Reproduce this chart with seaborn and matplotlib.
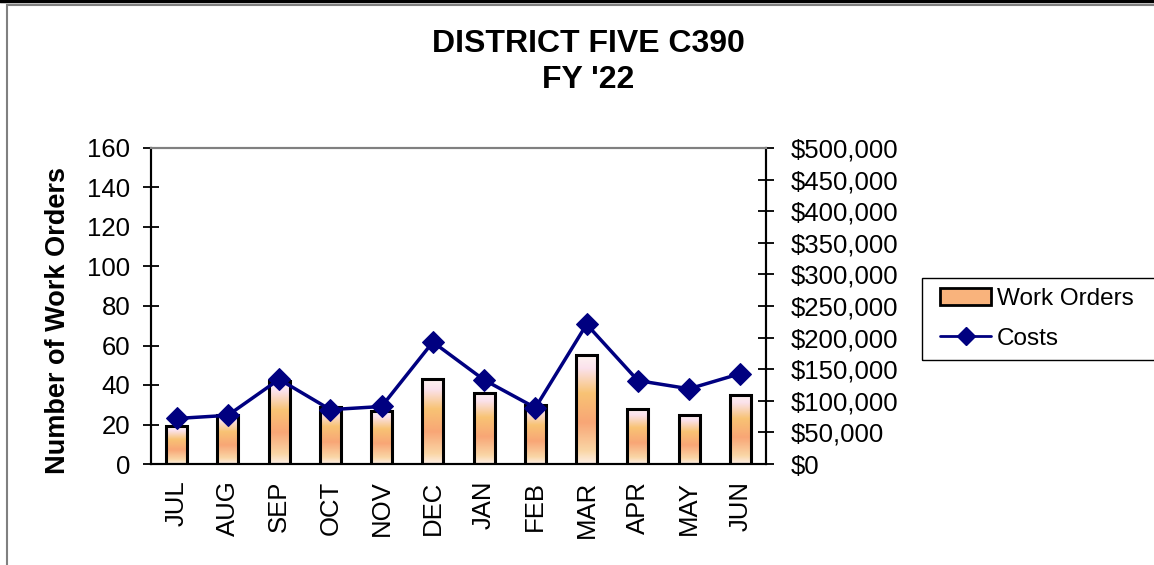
import numpy as np
import pandas as pd
import matplotlib
matplotlib.use("Agg")
import matplotlib.pyplot as plt
from matplotlib.colors import LinearSegmentedColormap
from matplotlib.patches import Rectangle, Patch
from matplotlib.lines import Line2D
from matplotlib.ticker import FuncFormatter, MultipleLocator, FixedLocator
import seaborn as sns

months = ["JUL", "AUG", "SEP", "OCT", "NOV", "DEC", "JAN", "FEB", "MAR", "APR", "MAY", "JUN"]
work_orders = [19, 25, 42, 29, 27, 43, 36, 30, 55, 28, 25, 35]
costs = [72000, 77000, 134000, 86000, 91000, 193000, 133000, 89000, 221000, 132000, 119000, 143000]

sns.set_style("white")
plt.rcParams["font.family"] = ["Liberation Sans", "DejaVu Sans"]
plt.rcParams["text.color"] = "black"
plt.rcParams["axes.labelcolor"] = "black"
plt.rcParams["xtick.color"] = "black"
plt.rcParams["ytick.color"] = "black"

W, H = 1154, 565
fig = plt.figure(figsize=(W / 100, H / 100), dpi=100)
ax = fig.add_axes([151 / W, 1 - 464 / H, (766 - 151) / W, (464 - 148) / H])

df = pd.DataFrame({"Month": months, "Work Orders": work_orders, "Costs": costs})
sns.barplot(data=df, x="Month", y="Work Orders", ax=ax, width=0.41,
            color="#F9B37C", edgecolor="black", linewidth=2.2, zorder=2)

# gradient fill for bars
cmap = LinearSegmentedColormap.from_list("grad", [
    (0.0, "#FDF3F0"), (0.12, "#FBE2EC"), (0.35, "#F8C374"),
    (0.62, "#F8A676"), (0.88, "#FAD6A6"), (1.0, "#FDEFE6")])
grad = np.linspace(0, 1, 256).reshape(-1, 1)
for p in ax.patches:
    x0, y0 = p.get_x(), p.get_y()
    w, h = p.get_width(), p.get_height()
    im = ax.imshow(grad, cmap=cmap, aspect="auto", extent=[x0, x0 + w, y0, y0 + h],
                   origin="upper", zorder=2.5)
    im.set_clip_path(p)
    p.set_facecolor("none")
    p.set_zorder(3)

ax.set_xlim(-0.5, 11.5)
ax.set_ylim(0, 160)
ax.yaxis.set_major_locator(MultipleLocator(20))
ax.set_xlabel("")
ax.set_ylabel("Number of Work Orders", fontsize=19.5, fontweight="bold")
ax.yaxis.set_label_coords((71 - 151) / (766 - 151), (464 - 320) / 316)

ax2 = ax.twinx()
sns.lineplot(data=df, x="Month", y="Costs", ax=ax2, color="#000080", linewidth=2.5,
             marker="D", markersize=11, markeredgecolor="#000080", zorder=4, sort=False)
ax2.set_ylim(0, 500000)
ax2.set_xlim(-0.5, 11.5)
ax2.yaxis.set_major_locator(MultipleLocator(50000))
ax2.yaxis.set_major_formatter(FuncFormatter(lambda v, _: f"${v:,.0f}"))
ax2.set_ylabel("")
ax2.set_xlabel("")

for a in (ax, ax2):
    for s in ("left", "right", "bottom"):
        a.spines[s].set_color("black")
        a.spines[s].set_linewidth(1.5)
    a.spines["top"].set_color("#808080")
    a.spines["top"].set_linewidth(1.5)

ax.tick_params(axis="y", direction="inout", length=12, width=1.3, labelsize=18.5, pad=9, colors="black")
ax2.tick_params(axis="y", direction="inout", length=12, width=1.3, labelsize=18.5, pad=12, colors="black")

ax.xaxis.set_minor_locator(FixedLocator(np.arange(0.5, 11.5, 1)))
ax.tick_params(axis="x", which="major", length=0, labelsize=18.5, pad=12, labelrotation=90, colors="black")
ax.tick_params(axis="x", which="minor", direction="out", length=7, width=1.3, colors="black")
ax2.tick_params(axis="x", which="both", length=0)

fig.text(588 / W, 1 - 44 / H, "DISTRICT FIVE C390", ha="center", va="center", fontsize=23, fontweight="bold")
fig.text(588 / W, 1 - 80 / H, "FY '22", ha="center", va="center", fontsize=23, fontweight="bold")

# legend frame drawn separately (extends past the right edge like the reference)
fig.patches.append(Rectangle((922 / W, 1 - 360 / H), 300 / W, 82 / H, transform=fig.transFigure,
                             fill=False, edgecolor="black", linewidth=1.0))
handles = [Patch(facecolor="#F9B37C", edgecolor="black", linewidth=2),
           Line2D([0], [0], color="#000080", linewidth=2, marker="D", markersize=9)]
leg = fig.legend(handles, ["Work Orders", "Costs"], loc="center left",
                 bbox_to_anchor=(940 / W, 1 - 319 / H),
                 fontsize=17.5, frameon=False, handlelength=2.1, handletextpad=0.25,
                 labelspacing=0.7, borderpad=0.0, borderaxespad=0)

# outer chart border
fig.patches.append(Rectangle((7 / W, -0.1), 1.2, 1.1 - 5 / H, transform=fig.transFigure,
                             fill=False, edgecolor="#808080", linewidth=1.5))
fig.lines.append(Line2D([0, 1], [1 - 1 / H, 1 - 1 / H], transform=fig.transFigure,
                        color="black", linewidth=2.5))

fig.savefig("out.png", dpi=100)
